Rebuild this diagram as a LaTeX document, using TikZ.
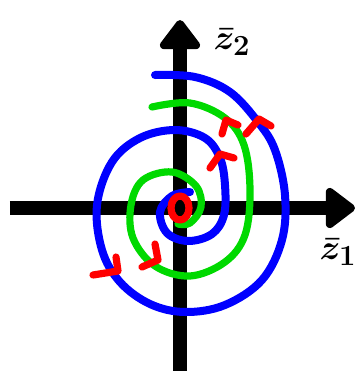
\documentclass[tikz,border=0pt]{standalone}
\usepackage{amsmath,amssymb}
\usepackage{tikz}
\usetikzlibrary{arrows.meta}

\begin{document}
\begin{tikzpicture}[
    x=0.025cm, y=-0.025cm,
    axis/.style={line width=0.35cm, black, -{Triangle[round, length=0.8cm, width=1.15cm]}},
    orbit/.style={line width=0.2cm, line cap=round, line join=round},
    bluecurve/.style={orbit, blue},
    greencurve/.style={orbit, green!85!black, line width=0.18cm},
    redmark/.style={line width=0.18cm, red, line cap=round, line join=round},
    lbl/.style={font=\Huge\boldmath, inner sep=0pt},
  ]
  \useasboundingbox (0,0) rectangle (358,371);
  % axes
  \draw[axis] (10,208) -- (355,208);
  \draw[axis] (180,380) -- (180,20);
  \node[lbl] (z2) at (232,42) {$\bar{z}_2$};
  \node[lbl] (z1) at (338,252) {$\bar{z}_1$};
  % trajectories
  \draw[bluecurve] plot[smooth, tension=0.6] coordinates {
    (190,192) (172,196) (160,212) (167,233) (188,241) (212,234) (224,215)
    (225,185) (220,158) (205,138) (175,130) (140,138) (112,162) (97,205)
    (102,250) (120,282) (150,304) (185,312) (225,305) (262,280) (282,240)
    (285,195) (275,150) (258,122) (230,92) (195,77) (155,75)};
  \draw[greencurve] plot[smooth, tension=0.6] coordinates {
    (152,107) (190,103) (225,118) (244,145) (250,190) (245,235) (225,262)
    (190,276) (155,266) (133,238) (131,205) (143,180) (172,172) (196,186)
    (201,207) (190,223) (178,224)};
  % centre
  \draw[redmark] (180,208) ellipse (9 and 12);
  % arrowheads
  \draw[redmark] (210,168) -- (220,154) -- (234,158);
  \draw[redmark] (246,134) -- (259,119) -- (271,126);
  \draw[redmark] (222,134) -- (226,120) -- (238,125);
  \draw[redmark] (93,275) -- (118,271) -- (116,257);
  \draw[redmark] (155,244) -- (158,260) -- (142,267);
\end{tikzpicture}
\end{document}
